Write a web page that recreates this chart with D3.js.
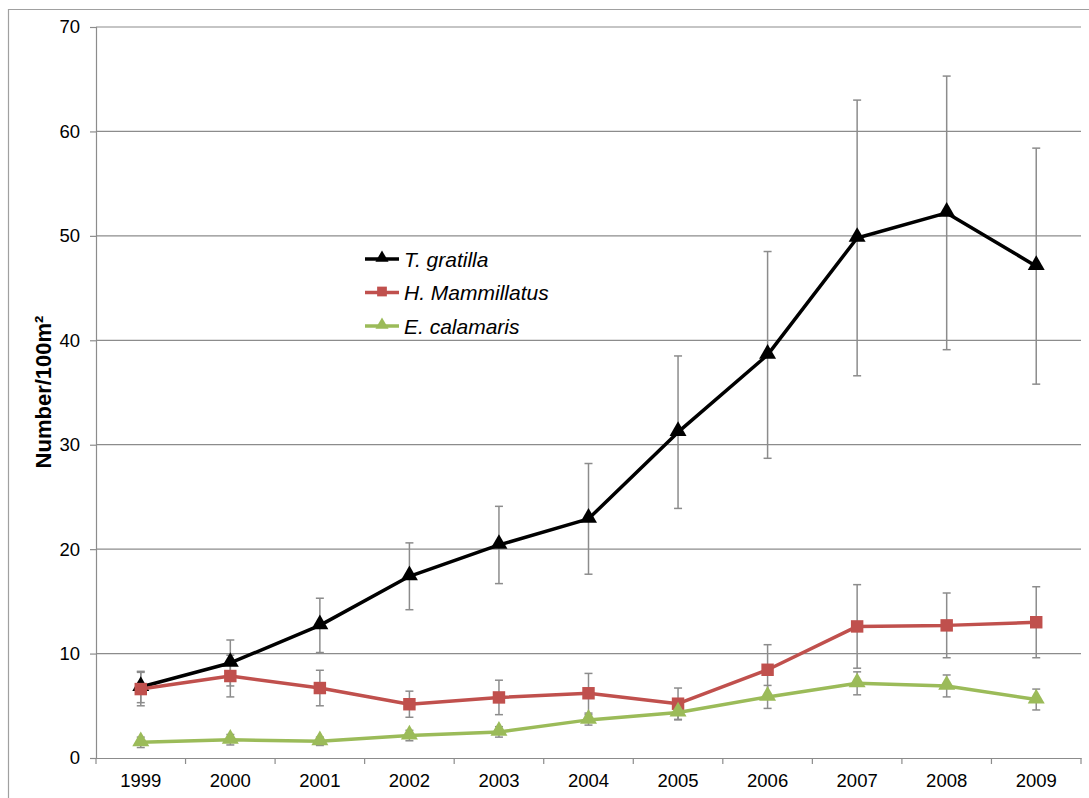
<!DOCTYPE html>
<html>
<head>
<meta charset="utf-8">
<script src="https://cdn.jsdelivr.net/npm/d3@7"></script>
<style>
  body { margin: 0; background: #fff; }
  svg { display: block; font-family: "Liberation Sans", Arial, sans-serif; }
</style>
</head>
<body>
<div id="chart"></div>
<script>
// Data
const years = ["1999", "2000", "2001", "2002", "2003", "2004", "2005", "2006", "2007", "2008", "2009"];
const gratilla = [6.8, 9.1, 12.7, 17.4, 20.4, 22.9, 31.2, 38.6, 49.8, 52.2, 47.1];
const gratillaErr = [1.5, 2.2, 2.6, 3.2, 3.7, 5.3, 7.3, 9.9, 13.2, 13.1, 11.3];
const mammillatus = [6.6, 7.85, 6.7, 5.15, 5.8, 6.2, 5.2, 8.45, 12.6, 12.7, 13.0];
const mammillatusErr = [1.6, 2.0, 1.7, 1.25, 1.65, 1.9, 1.5, 2.4, 4.0, 3.1, 3.4];
const calamaris = [1.5, 1.75, 1.6, 2.15, 2.5, 3.65, 4.35, 5.85, 7.15, 6.9, 5.6];
const calamarisErr = [0.5, 0.5, 0.4, 0.5, 0.5, 0.5, 0.7, 1.1, 1.1, 1.05, 1.0];
const yTicks = [0, 10, 20, 30, 40, 50, 60, 70];

const series = [
  { name: "T. gratilla", values: gratilla, err: gratillaErr, color: "#000000", marker: "triangle" },
  { name: "H. Mammillatus", values: mammillatus, err: mammillatusErr, color: "#c0504d", marker: "square" },
  { name: "E. calamaris", values: calamaris, err: calamarisErr, color: "#9bbb59", marker: "triangle" }
];

const W = 1089, H = 798;
const plot = { left: 96, right: 1081, top: 27, bottom: 758 };
const gridColor = "#8c8c8c";

const svg = d3.select("#chart").append("svg")
  .attr("width", W)
  .attr("height", H);

// Outer chart border (only top and left visible)
svg.append("path")
  .attr("d", `M8.5,${H} V9.5 H${W}`)
  .attr("fill", "none")
  .attr("stroke", "#a0a0a0")
  .attr("stroke-width", 1.2);

// Scales
const x = d3.scaleBand()
  .domain(years)
  .range([plot.left, plot.right])
  .padding(0);

const y = d3.scaleLinear()
  .domain([0, 70])
  .range([plot.bottom, plot.top]);

const cx = d => x(d) + x.bandwidth() / 2;

// Gridlines
svg.append("g")
  .selectAll("line")
  .data(yTicks.filter(t => t > 0))
  .enter()
  .append("line")
  .attr("x1", plot.left)
  .attr("x2", plot.right)
  .attr("y1", d => y(d))
  .attr("y2", d => y(d))
  .attr("stroke", gridColor)
  .attr("stroke-width", 1.2);

// Y axis
const yAxis = svg.append("g")
  .attr("transform", `translate(${plot.left},0)`)
  .call(d3.axisLeft(y).tickValues(yTicks).tickSize(6).tickPadding(10).tickFormat(d3.format("d")));
yAxis.select(".domain").attr("stroke", gridColor).attr("stroke-width", 1.2);
yAxis.selectAll(".tick line").attr("stroke", gridColor).attr("stroke-width", 1.2);
yAxis.selectAll(".tick text")
  .attr("fill", "#000")
  .style("font-size", "18.5px");

// X axis: ticks at category boundaries
const xAxis = svg.append("g")
  .attr("transform", `translate(0,${plot.bottom})`)
  .call(d3.axisBottom(x).tickSize(0).tickPadding(16));
xAxis.select(".domain").attr("stroke", gridColor).attr("stroke-width", 1.2);
xAxis.selectAll(".tick text")
  .attr("fill", "#000")
  .style("font-size", "18.5px");
xAxis.selectAll(".boundary")
  .data(years.concat(["end"]))
  .enter()
  .append("line")
  .attr("class", "boundary")
  .attr("x1", (d, i) => i < years.length ? x(d) : plot.right)
  .attr("x2", (d, i) => i < years.length ? x(d) : plot.right)
  .attr("y1", 0)
  .attr("y2", 6)
  .attr("stroke", gridColor)
  .attr("stroke-width", 1.2);

// Y axis title
svg.append("text")
  .attr("transform", `translate(51,392) rotate(-90)`)
  .attr("text-anchor", "middle")
  .style("font-size", "22px")
  .style("font-weight", "bold")
  .text("Number/100m²");

// Error bars
series.forEach(s => {
  const g = svg.append("g");
  s.values.forEach((v, i) => {
    const px = cx(years[i]);
    const hi = y(v + s.err[i]), lo = y(Math.max(0, v - s.err[i]));
    g.append("line")
      .attr("x1", px).attr("x2", px)
      .attr("y1", hi).attr("y2", lo)
      .attr("stroke", gridColor).attr("stroke-width", 1.5);
    [hi, lo].forEach(yy => {
      g.append("line")
        .attr("x1", px - 4).attr("x2", px + 4)
        .attr("y1", yy).attr("y2", yy)
        .attr("stroke", gridColor).attr("stroke-width", 1.5);
    });
  });
});

// Lines and markers
const line = d3.line()
  .x((d, i) => cx(years[i]))
  .y(d => y(d));

const triangle = d3.symbol().type(d3.symbolTriangle).size(125);
const square = d3.symbol().type(d3.symbolSquare).size(155);

series.forEach(s => {
  svg.append("path")
    .datum(s.values)
    .attr("fill", "none")
    .attr("stroke", s.color)
    .attr("stroke-width", 3.5)
    .attr("stroke-linejoin", "round")
    .attr("d", line);

  svg.append("g")
    .selectAll("path")
    .data(s.values)
    .enter()
    .append("path")
    .attr("transform", (d, i) => `translate(${cx(years[i])},${y(d) + (s.marker === "triangle" ? -1 : 0)})`)
    .attr("d", s.marker === "triangle" ? triangle : square)
    .attr("fill", s.color);
});

// Legend
const legend = svg.append("g");
series.forEach((s, i) => {
  const ly = 259 + i * 33.5;
  legend.append("line")
    .attr("x1", 365).attr("x2", 399)
    .attr("y1", ly).attr("y2", ly)
    .attr("stroke", s.color)
    .attr("stroke-width", 3.5);
  legend.append("path")
    .attr("transform", `translate(382,${ly - 1})`)
    .attr("d", s.marker === "triangle" ? d3.symbol().type(d3.symbolTriangle).size(75)() : d3.symbol().type(d3.symbolSquare).size(95)())
    .attr("fill", s.color);
  legend.append("text")
    .attr("x", 404)
    .attr("y", ly)
    .attr("dy", "0.36em")
    .style("font-size", "21px")
    .style("font-style", "italic")
    .text(s.name);
});
</script>
</body>
</html>
